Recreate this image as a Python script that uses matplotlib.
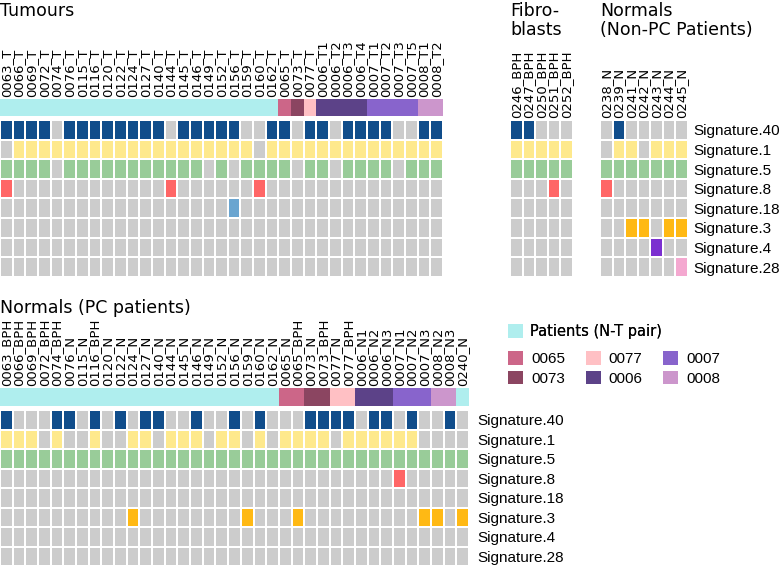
import numpy as np
import matplotlib
matplotlib.use('Agg')
import matplotlib.pyplot as plt
from matplotlib.colors import ListedColormap
from matplotlib.patches import Patch

#DATA
signatures = ['Signature.40', 'Signature.1', 'Signature.5', 'Signature.8',
              'Signature.18', 'Signature.3', 'Signature.4', 'Signature.28']
sig_colors = ['#104d8b', '#fee98c', '#99cc99', '#ff6666',
              '#6aa5d0', '#ffb914', '#7b2fd0', '#f4a8d0']
off_color = '#cccccc'

group_names = ['pair', '0065', '0073', '0077', '0006', '0007', '0008']
group_colors = ['#afeeee', '#cc6688', '#8b4561', '#ffc0c4', '#5c4288', '#8864cc', '#cc96cc']

tumour_samples = ['0063_T', '0066_T', '0069_T', '0072_T', '0074_T', '0076_T', '0115_T',
                  '0116_T', '0120_T', '0122_T', '0124_T', '0127_T', '0140_T', '0144_T',
                  '0145_T', '0146_T', '0149_T', '0152_T', '0156_T', '0159_T', '0160_T',
                  '0162_T', '0065_T', '0073_T', '0077_T', '0006_T1', '0006_T2', '0006_T3',
                  '0006_T4', '0007_T1', '0007_T2', '0007_T3', '0007_T5', '0008_T1', '0008_T2']
tumour_groups = ['pair'] * 22 + ['0065', '0073', '0077'] + ['0006'] * 4 + ['0007'] * 4 + ['0008'] * 2
tumour_sig40 = [1, 1, 1, 1, 0, 1, 1, 1, 1, 1, 1, 1, 1, 0, 1, 1, 1, 1, 1, 0, 0, 1,
                1, 0, 1, 1, 0, 1, 1, 1, 1, 0, 0, 1, 1]
tumour_sig1 = [0, 1, 1, 1, 1, 1, 1, 1, 1, 1, 1, 1, 1, 1, 1, 1, 1, 1, 1, 1, 0, 1,
               1, 1, 1, 1, 1, 1, 1, 1, 1, 1, 1, 1, 1]
tumour_sig5 = [1, 1, 1, 1, 0, 1, 1, 1, 1, 1, 1, 1, 1, 1, 1, 1, 0, 1, 0, 1, 1, 1,
               1, 0, 1, 1, 0, 1, 1, 1, 1, 0, 1, 1, 1]
tumour_sig8 = [1, 0, 0, 0, 0, 0, 0, 0, 0, 0, 0, 0, 0, 1, 0, 0, 0, 0, 0, 0, 1, 0,
               0, 0, 0, 0, 0, 0, 0, 0, 0, 0, 0, 0, 0]
tumour_sig18 = [0, 0, 0, 0, 0, 0, 0, 0, 0, 0, 0, 0, 0, 0, 0, 0, 0, 0, 1, 0, 0, 0,
                0, 0, 0, 0, 0, 0, 0, 0, 0, 0, 0, 0, 0]

fibro_samples = ['0246_BPH', '0247_BPH', '0250_BPH', '0251_BPH', '0252_BPH']
fibro_sig40 = [1, 1, 0, 0, 0]
fibro_sig1 = [1, 1, 1, 1, 1]
fibro_sig5 = [1, 1, 1, 1, 1]
fibro_sig8 = [0, 0, 0, 1, 0]

nonpc_samples = ['0238_N', '0239_N', '0241_N', '0242_N', '0243_N', '0244_N', '0245_N']
nonpc_sig40 = [0, 1, 0, 0, 0, 0, 0]
nonpc_sig1 = [0, 1, 1, 0, 1, 1, 1]
nonpc_sig5 = [1, 1, 1, 1, 1, 1, 1]
nonpc_sig8 = [1, 0, 0, 0, 0, 0, 0]
nonpc_sig3 = [0, 0, 1, 1, 0, 1, 1]
nonpc_sig4 = [0, 0, 0, 0, 1, 0, 0]
nonpc_sig28 = [0, 0, 0, 0, 0, 0, 1]

pc_samples = ['0063_BPH', '0066_BPH', '0069_BPH', '0072_BPH', '0074_BPH', '0076_N', '0115_N',
              '0116_BPH', '0120_N', '0122_N', '0124_N', '0127_N', '0140_N', '0144_N',
              '0145_N', '0146_N', '0149_N', '0152_N', '0156_N', '0159_N', '0160_N',
              '0162_N', '0065_N', '0065_BPH', '0073_N', '0073_BPH', '0077_N', '0077_BPH',
              '0006_N1', '0006_N2', '0006_N3', '0007_N1', '0007_N2', '0007_N3',
              '0008_N2', '0008_N3', '0240_N']
pc_groups = (['pair'] * 22 + ['0065'] * 2 + ['0073'] * 2 + ['0077'] * 2
             + ['0006'] * 3 + ['0007'] * 3 + ['0008'] * 2 + ['pair'])
pc_sig40 = [1, 0, 0, 0, 1, 1, 0, 1, 0, 1, 0, 1, 1, 0, 0, 1, 0, 0, 1, 0, 1, 0,
            0, 0, 1, 1, 1, 1, 0, 1, 1, 0, 1, 0, 0, 1, 0]
pc_sig1 = [1, 1, 1, 0, 1, 0, 0, 1, 0, 0, 1, 1, 0, 1, 1, 1, 0, 1, 1, 0, 1, 0,
           1, 1, 1, 1, 0, 1, 1, 1, 1, 1, 1, 0, 0, 0, 0]
pc_sig5 = [1] * 37
pc_sig8 = [0, 0, 0, 0, 0, 0, 0, 0, 0, 0, 0, 0, 0, 0, 0, 0, 0, 0, 0, 0, 0, 0,
           0, 0, 0, 0, 0, 0, 0, 0, 0, 1, 0, 0, 0, 0, 0]
pc_sig3 = [0, 0, 0, 0, 0, 0, 0, 0, 0, 0, 1, 0, 0, 0, 0, 0, 0, 0, 0, 1, 0, 0,
           0, 1, 0, 0, 0, 0, 0, 0, 0, 0, 0, 1, 1, 0, 1]

legend_labels = ['0065', '0073', '0077', '0006', '0007', '0008']

#FIGURE
W, H = 780, 567
fig = plt.figure(figsize=(W / 100, H / 100), dpi=100)

LABEL_FONT = 'DejaVu Sans'
SIG_FONT = 'Liberation Sans'
TITLE_SIZE = 12.5


def px_axes(x0, y0, x1, y1):
    '''Axes from pixel box (top-left origin)'''
    ax = fig.add_axes([x0 / W, 1 - y1 / H, (x1 - x0) / W, (y1 - y0) / H])
    for s in ax.spines.values():
        s.set_visible(False)
    ax.set_yticks([])
    ax.set_xticks([])
    return ax


def col_labels(ax, samples):
    ax.set_xticks(np.arange(len(samples)) + 0.5)
    ax.set_xticklabels(samples, rotation=90, fontsize=9.5, family=LABEL_FONT)
    ax.xaxis.tick_top()
    ax.tick_params(axis='x', length=0, pad=1.5)


def heatmap(ax, rows, samples=None, sig_labels=False, pad=4):
    n = len(rows[0])
    mat = np.array(rows)
    codes = mat * (np.arange(len(rows))[:, None] + 1)
    cmap = ListedColormap([off_color] + sig_colors)
    ax.pcolormesh(codes, cmap=cmap, vmin=-0.5, vmax=len(sig_colors) + 0.5,
                  edgecolors='white', linewidth=1.3)
    ax.set_xlim(0, n)
    ax.set_ylim(len(rows), 0)
    if samples is not None:
        col_labels(ax, samples)
    if sig_labels:
        ax.yaxis.tick_right()
        ax.set_yticks(np.arange(len(rows)) + 0.5)
        ax.set_yticklabels(signatures, fontsize=11, family=SIG_FONT)
        ax.tick_params(axis='y', length=0, pad=pad)


def annot_bar(ax, groups, samples):
    codes = np.array([[group_names.index(g) for g in groups]])
    ax.pcolormesh(codes, cmap=ListedColormap(group_colors), vmin=-0.5,
                  vmax=len(group_colors) - 0.5)
    ax.set_xlim(0, len(groups))
    ax.set_ylim(1, 0)
    col_labels(ax, samples)


def rows_or_zero(n, *rows):
    return [r if r is not None else [0] * n for r in rows]


# Tumours
ax = px_axes(0, 99, 443, 116)
annot_bar(ax, tumour_groups, tumour_samples)
ax = px_axes(0, 120, 443, 277)
heatmap(ax, rows_or_zero(len(tumour_samples), tumour_sig40, tumour_sig1, tumour_sig5,
                         tumour_sig8, tumour_sig18, None, None, None))

# Fibroblasts
ax = px_axes(510, 120, 573, 277)
heatmap(ax, rows_or_zero(len(fibro_samples), fibro_sig40, fibro_sig1, fibro_sig5,
                         fibro_sig8, None, None, None, None), samples=fibro_samples)

# Normals (non-PC)
ax = px_axes(600, 120, 688, 277)
heatmap(ax, rows_or_zero(len(nonpc_samples), nonpc_sig40, nonpc_sig1, nonpc_sig5,
                         nonpc_sig8, None, nonpc_sig3, nonpc_sig4, nonpc_sig28),
        samples=nonpc_samples, sig_labels=True, pad=4)

# Normals (PC patients)
ax = px_axes(0, 388, 469, 406)
annot_bar(ax, pc_groups, pc_samples)
ax = px_axes(0, 410, 469, 566)
heatmap(ax, rows_or_zero(len(pc_samples), pc_sig40, pc_sig1, pc_sig5,
                         pc_sig8, None, pc_sig3, None, None), sig_labels=True, pad=6)

# Titles
fig.text(0, 1 - 2 / H, 'Tumours', fontsize=TITLE_SIZE, family=LABEL_FONT, va='top', ha='left')
fig.text(510 / W, 1 - 2 / H, 'Fibro-\nblasts', fontsize=TITLE_SIZE, family=LABEL_FONT,
         va='top', ha='left', linespacing=1.1)
fig.text(600 / W, 1 - 2 / H, 'Normals\n(Non-PC Patients)', fontsize=TITLE_SIZE,
         family=LABEL_FONT, va='top', ha='left', linespacing=1.1)
fig.text(0, 1 - 299 / H, 'Normals (PC patients)', fontsize=TITLE_SIZE, family=LABEL_FONT,
         va='top', ha='left')

# Legend
pair_handle = [Patch(facecolor=group_colors[0], edgecolor='none')]
leg1 = fig.legend(pair_handle, ['Patients (N-T pair)'], loc='upper left',
                  bbox_to_anchor=(508 / W, 1 - 324 / H), frameon=False,
                  handlelength=1.0, handleheight=1.0, handletextpad=0.5, borderpad=0,
                  borderaxespad=0, prop={'family': LABEL_FONT, 'size': 10.5})
fig.add_artist(leg1)
handles = [Patch(facecolor=group_colors[group_names.index(g)], edgecolor='none')
           for g in legend_labels]
fig.legend(handles, legend_labels, loc='upper left', ncol=3,
           bbox_to_anchor=(508 / W, 1 - 351 / H), frameon=False,
           handlelength=1.0, handleheight=1.0, handletextpad=0.5, borderpad=0,
           borderaxespad=0, columnspacing=1.35, labelspacing=0.3,
           prop={'family': SIG_FONT, 'size': 11})

fig.savefig('out.png', dpi=100)
